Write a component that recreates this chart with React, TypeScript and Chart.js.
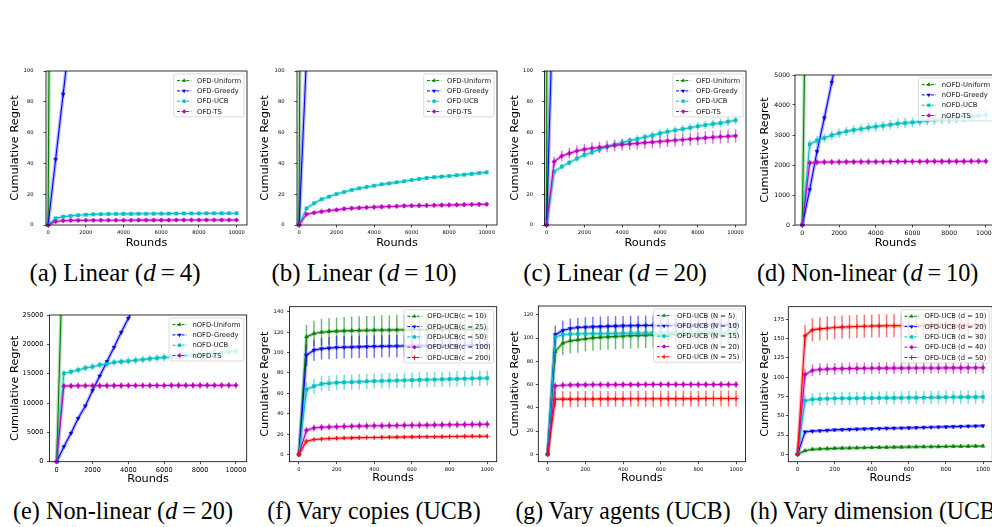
import React, { useEffect, useRef } from "react";
import { Chart, registerables } from "chart.js";
Chart.register(...registerables);

// ---------- shared axes ----------
const ROUNDS_10K = [0, 400, 800, 1200, 1600, 2000, 2400, 2800, 3200, 3600, 4000, 4400, 4800, 5200, 5600, 6000, 6400, 6800, 7200, 7600, 8000, 8400, 8800, 9200, 9600, 10000];
const ROUNDS_1K = [0, 40, 80, 120, 160, 200, 240, 280, 320, 360, 400, 440, 480, 520, 560, 600, 640, 680, 720, 760, 800, 840, 880, 920, 960, 1000];
const X_TICKS_10K = [0, 2000, 4000, 6000, 8000, 10000];
const X_TICKS_1K = [0, 200, 400, 600, 800, 1000];
const Y_TICKS_LIN = [0, 20, 40, 60, 80, 100];
const Y_TICKS_D = [0, 1000, 2000, 3000, 4000, 5000];
const Y_TICKS_E = [0, 5000, 10000, 15000, 20000, 25000];
const Y_TICKS_F = [0, 20, 40, 60, 80, 100, 120, 140];
const Y_TICKS_G = [0, 20, 40, 60, 80, 100, 120];
const Y_TICKS_H = [0, 25, 50, 75, 100, 125, 150, 175];

const LABELS_LIN = ["OFD-Uniform", "OFD-Greedy", "OFD-UCB", "OFD-TS"];
const LABELS_NONLIN = ["nOFD-Uniform", "nOFD-Greedy", "nOFD-UCB", "nOFD-TS"];
const LABELS_COPIES = ["OFD-UCB(c = 10)", "OFD-UCB(c = 25)", "OFD-UCB(c = 50)", "OFD-UCB(c = 100)", "OFD-UCB(c = 200)"];
const LABELS_AGENTS = ["OFD-UCB (N = 5)", "OFD-UCB (N = 10)", "OFD-UCB (N = 15)", "OFD-UCB (N = 20)", "OFD-UCB (N = 25)"];
const LABELS_DIM = ["OFD-UCB (d = 10)", "OFD-UCB (d = 20)", "OFD-UCB (d = 30)", "OFD-UCB (d = 40)", "OFD-UCB (d = 50)"];

// ---------- (a) Linear d=4 ----------
const A_UNIFORM = [0, 820, 1640];
const A_UNIFORM_ERR = [0, 40, 80];
const A_GREEDY = [0, 42.5, 85.0, 127.5, 170.0];
const A_GREEDY_ERR = [0, 1.5, 2.5, 3.5, 4.5];
const A_UCB = [0, 4.3, 5.4, 5.9, 6.3, 6.7, 6.9, 7.0, 7.1, 7.15, 7.2, 7.25, 7.3, 7.3, 7.35, 7.4, 7.4, 7.45, 7.5, 7.5, 7.5, 7.55, 7.55, 7.6, 7.6, 7.6];
const A_UCB_ERR = [0, 0.5, 0.5, 0.5, 0.6, 0.6, 0.6, 0.6, 0.6, 0.6, 0.7, 0.7, 0.7, 0.7, 0.7, 0.7, 0.7, 0.7, 0.7, 0.7, 0.7, 0.7, 0.7, 0.7, 0.7, 0.7];
const A_TS = [0, 2.3, 2.8, 3.0, 3.0, 3.05, 3.05, 3.1, 3.1, 3.1, 3.1, 3.1, 3.15, 3.15, 3.15, 3.15, 3.15, 3.2, 3.2, 3.2, 3.2, 3.2, 3.2, 3.2, 3.2, 3.2];
const A_TS_ERR = [0, 0.7, 0.8, 0.8, 0.8, 0.8, 0.8, 0.8, 0.8, 0.8, 0.8, 0.8, 0.8, 0.8, 0.8, 0.8, 0.8, 0.8, 0.8, 0.8, 0.8, 0.8, 0.8, 0.8, 0.8, 0.8];

// ---------- (b) Linear d=10 ----------
const B_UNIFORM = [0, 1080, 2160];
const B_UNIFORM_ERR = [0, 50, 100];
const B_GREEDY = [0, 110, 220];
const B_GREEDY_ERR = [0, 3, 6];
const B_UCB = [0, 10.8, 14.1, 16.7, 18.4, 20.1, 21.4, 22.7, 23.8, 24.7, 25.5, 26.4, 27.0, 27.7, 28.4, 29.2, 29.9, 30.5, 31.0, 31.4, 31.8, 32.3, 32.7, 33.2, 33.8, 34.2];
const B_UCB_ERR = [0, 0.6, 0.7, 0.7, 0.8, 0.8, 0.8, 0.8, 0.9, 0.9, 0.9, 0.9, 0.9, 0.9, 1.0, 1.0, 1.0, 1.0, 1.0, 1.0, 1.0, 1.0, 1.0, 1.0, 1.0, 1.0];
const B_TS = [0, 7.0, 8.0, 8.7, 9.4, 9.8, 10.5, 10.9, 11.1, 11.4, 11.6, 11.8, 12.0, 12.2, 12.4, 12.5, 12.6, 12.7, 12.8, 12.9, 13.0, 13.1, 13.2, 13.3, 13.4, 13.5];
const B_TS_ERR = [0, 1.0, 1.2, 1.2, 1.3, 1.3, 1.4, 1.4, 1.4, 1.4, 1.5, 1.5, 1.5, 1.5, 1.5, 1.5, 1.5, 1.6, 1.6, 1.6, 1.6, 1.6, 1.6, 1.6, 1.6, 1.6];

// ---------- (c) Linear d=20 ----------
const C_UNIFORM = [0, 4000, 8000];
const C_UNIFORM_ERR = [0, 200, 400];
const C_GREEDY = [0, 171, 342];
const C_GREEDY_ERR = [0, 5, 10];
const C_UCB = [0, 34.6, 37.9, 40.5, 43.1, 45.5, 47.2, 49.1, 50.9, 52.2, 53.5, 54.8, 55.8, 57.1, 58.2, 59.5, 60.6, 61.5, 62.3, 63.2, 64.1, 64.9, 65.6, 66.2, 67.1, 68.0];
const C_UCB_ERR = [0, 1.5, 1.7, 1.8, 1.9, 2.0, 2.1, 2.1, 2.2, 2.2, 2.3, 2.3, 2.4, 2.4, 2.5, 2.5, 2.5, 2.6, 2.6, 2.7, 2.7, 2.8, 2.8, 2.8, 2.9, 2.9];
const C_TS = [0, 41.1, 44.8, 46.5, 48.1, 49.1, 49.8, 50.4, 51.0, 51.7, 52.2, 52.6, 53.0, 53.5, 53.8, 54.2, 54.6, 55.0, 55.4, 55.8, 56.2, 56.6, 57.0, 57.3, 57.6, 57.9];
const C_TS_ERR = [0, 3.2, 3.4, 3.5, 3.6, 3.6, 3.7, 3.7, 3.8, 3.8, 3.8, 3.9, 3.9, 3.9, 4.0, 4.0, 4.0, 4.1, 4.1, 4.1, 4.2, 4.2, 4.2, 4.3, 4.3, 4.3];

// ---------- (d) Non-linear d=10 ----------
const D_UNIFORM = [0, 18000, 36000];
const D_UNIFORM_ERR = [0, 1500, 3000];
const D_GREEDY = [0, 1180, 2450, 3570, 4750, 5950];
const D_GREEDY_ERR = [0, 40, 70, 90, 110, 130];
const D_UCB = [0, 2690, 2820, 2900, 2990, 3060, 3120, 3170, 3200, 3245, 3280, 3310, 3345, 3380, 3400, 3420, 3445, 3480, 3510, 3530, 3550, 3575, 3600, 3620, 3645, 3665];
const D_UCB_ERR = [0, 140, 145, 150, 150, 155, 155, 155, 160, 160, 160, 160, 160, 165, 165, 165, 165, 165, 165, 165, 170, 170, 170, 170, 170, 170];
const D_TS = [0, 2070, 2090, 2095, 2100, 2100, 2105, 2105, 2110, 2110, 2110, 2110, 2115, 2115, 2115, 2115, 2115, 2120, 2120, 2120, 2120, 2120, 2120, 2125, 2125, 2125];
const D_TS_ERR = [0, 100, 105, 105, 105, 105, 105, 105, 110, 110, 110, 110, 110, 110, 110, 110, 110, 110, 110, 110, 110, 110, 110, 110, 110, 110];

// ---------- (e) Non-linear d=20 ----------
const E_UNIFORM = [0, 41700, 83400];
const E_UNIFORM_ERR = [0, 2500, 5000];
const E_GREEDY = [0, 2550, 4850, 7400, 9500, 12150, 14600, 17050, 19500, 22050, 24450, 26900];
const E_GREEDY_ERR = [0, 60, 90, 110, 130, 150, 160, 170, 180, 190, 200, 210];
const E_UCB = [0, 15060, 15340, 15630, 15970, 16190, 16480, 16650, 16940, 17050, 17160, 17280, 17400, 17560, 17670, 17780, 17840, 17950, 18070, 18180, 18300, 18350, 18460, 18580, 18690, 18800];
const E_UCB_ERR = [0, 500, 520, 540, 560, 580, 590, 600, 610, 620, 630, 630, 640, 640, 650, 650, 650, 660, 660, 660, 670, 670, 670, 680, 680, 680];
const E_TS = [0, 12900, 12920, 12940, 12950, 12950, 12960, 12960, 12970, 12970, 12980, 12980, 12980, 12990, 12990, 12990, 13000, 13000, 13000, 13000, 13010, 13010, 13010, 13020, 13020, 13020];
const E_TS_ERR = [0, 520, 530, 540, 540, 550, 550, 550, 560, 560, 560, 560, 560, 570, 570, 570, 570, 570, 570, 570, 580, 580, 580, 580, 580, 580];

// ---------- (f) Vary copies ----------
const F_C10 = [0, 115.4, 118.7, 120.0, 120.6, 121.0, 121.3, 121.5, 121.7, 121.9, 122.0, 122.1, 122.2, 122.3, 122.4, 122.5, 122.6, 122.6, 122.7, 122.7, 122.8, 122.8, 122.9, 122.9, 123.0, 123.0];
const F_C10_ERR = [0, 12.0, 12.5, 13.0, 13.0, 13.5, 13.5, 14.0, 14.0, 14.0, 14.0, 14.5, 14.5, 14.5, 14.5, 14.5, 14.5, 14.5, 14.5, 14.5, 14.5, 14.5, 14.5, 14.5, 14.5, 14.5];
const F_C25 = [0, 97.4, 102.4, 103.7, 104.4, 105.0, 105.2, 105.4, 105.6, 105.8, 106.0, 106.1, 106.2, 106.3, 106.4, 106.5, 106.6, 106.6, 106.7, 106.7, 106.8, 106.8, 106.9, 106.9, 107.0, 107.0];
const F_C25_ERR = [0, 10.5, 10.5, 10.5, 11.0, 11.0, 11.0, 11.0, 11.0, 11.0, 11.0, 11.0, 11.0, 11.0, 11.0, 11.0, 11.0, 11.0, 11.0, 11.0, 11.0, 11.0, 11.0, 11.0, 11.0, 11.0];
const F_C50 = [0, 63.8, 67.0, 69.3, 69.9, 70.5, 70.8, 71.1, 71.4, 71.7, 72.0, 72.2, 72.4, 72.6, 72.8, 73.0, 73.2, 73.4, 73.6, 73.8, 74.0, 74.2, 74.4, 74.6, 74.8, 74.9];
const F_C50_ERR = [0, 7.0, 7.5, 7.5, 7.5, 7.5, 7.5, 7.5, 7.5, 7.5, 7.5, 7.5, 7.5, 7.5, 7.5, 7.5, 7.5, 7.5, 7.5, 7.5, 7.5, 7.5, 7.5, 7.5, 7.5, 7.5];
const F_C100 = [0, 23.8, 26.1, 26.7, 27.0, 27.3, 27.5, 27.7, 27.9, 28.0, 28.2, 28.3, 28.4, 28.5, 28.6, 28.7, 28.8, 28.9, 29.0, 29.1, 29.2, 29.3, 29.4, 29.5, 29.6, 29.7];
const F_C100_ERR = [0, 3.5, 3.5, 3.5, 3.5, 3.6, 3.6, 3.6, 3.6, 3.6, 3.7, 3.7, 3.7, 3.7, 3.7, 3.7, 3.8, 3.8, 3.8, 3.8, 3.8, 3.8, 3.8, 3.8, 3.8, 3.8];
const F_C200 = [0, 13.0, 14.7, 15.3, 15.7, 16.0, 16.2, 16.4, 16.6, 16.7, 16.8, 16.9, 17.0, 17.1, 17.2, 17.3, 17.4, 17.5, 17.5, 17.6, 17.7, 17.7, 17.8, 17.9, 17.9, 18.0];
const F_C200_ERR = [0, 1.0, 1.1, 1.1, 1.2, 1.2, 1.2, 1.2, 1.2, 1.2, 1.2, 1.3, 1.3, 1.3, 1.3, 1.3, 1.3, 1.3, 1.3, 1.3, 1.3, 1.3, 1.3, 1.3, 1.3, 1.3];

// ---------- (g) Vary agents ----------
const G_N5 = [0, 88.4, 95.6, 97.6, 98.4, 99.3, 100.1, 100.6, 101.0, 101.4, 101.7, 102.0, 102.2, 102.5, 102.7, 102.9, 103.0, 103.1, 103.2, 103.3, 103.4, 103.5, 103.5, 103.6, 103.6, 103.7];
const G_N5_ERR = [0, 10.0, 10.5, 11.0, 11.0, 11.0, 11.0, 11.0, 11.0, 11.0, 11.0, 11.0, 11.0, 11.0, 11.0, 11.0, 11.0, 11.0, 11.0, 11.0, 11.0, 11.0, 11.0, 11.0, 11.0, 11.0];
const G_N10 = [0, 102.8, 106.5, 108.2, 109.0, 109.3, 109.6, 109.8, 110.0, 110.2, 110.4, 110.5, 110.6, 110.7, 110.8, 110.9, 110.9, 111.0, 111.0, 111.1, 111.1, 111.2, 111.2, 111.3, 111.3, 111.3];
const G_N10_ERR = [0, 8.0, 8.3, 8.5, 8.5, 8.6, 8.6, 8.6, 8.6, 8.6, 8.6, 8.6, 8.6, 8.6, 8.6, 8.6, 8.6, 8.6, 8.6, 8.6, 8.6, 8.6, 8.6, 8.6, 8.6, 8.6];
const G_N15 = [0, 100.8, 102.8, 103.4, 103.5, 103.6, 103.7, 103.8, 103.9, 104.0, 104.1, 104.2, 104.2, 104.3, 104.4, 104.5, 104.5, 104.6, 104.7, 104.7, 104.8, 104.8, 104.9, 104.9, 105.0, 105.0];
const G_N15_ERR = [0, 5.5, 5.5, 5.5, 5.5, 5.5, 5.5, 5.5, 5.5, 5.5, 5.5, 5.5, 5.5, 5.5, 5.5, 5.5, 5.5, 5.5, 5.5, 5.5, 5.5, 5.5, 5.5, 5.5, 5.5, 5.5];
const G_N20 = [0, 58.8, 59.4, 59.6, 59.7, 59.7, 59.8, 59.8, 59.8, 59.9, 59.9, 59.9, 59.9, 60.0, 60.0, 60.0, 60.0, 60.0, 60.0, 60.0, 60.0, 60.0, 60.0, 60.0, 60.0, 60.0];
const G_N20_ERR = [0, 3.0, 3.0, 3.0, 3.0, 3.0, 3.0, 3.0, 3.0, 3.0, 3.0, 3.0, 3.0, 3.0, 3.0, 3.0, 3.0, 3.0, 3.0, 3.0, 3.0, 3.0, 3.0, 3.0, 3.0, 3.0];
const G_N25 = [0, 47.4, 47.5, 47.5, 47.6, 47.6, 47.6, 47.7, 47.7, 47.7, 47.7, 47.8, 47.8, 47.8, 47.8, 47.8, 47.9, 47.9, 47.9, 47.9, 47.9, 48.0, 48.0, 48.0, 48.0, 48.0];
const G_N25_ERR = [0, 6.8, 6.8, 6.8, 6.8, 6.8, 6.8, 6.8, 6.8, 6.8, 6.8, 6.8, 6.8, 6.8, 6.8, 6.8, 6.8, 6.8, 6.8, 6.8, 6.8, 6.8, 6.8, 6.8, 6.8, 6.8];

// ---------- (h) Vary dimension ----------
const H_D10 = [0, 4.7, 6.5, 7.0, 7.4, 7.7, 8.0, 8.2, 8.4, 8.6, 8.8, 9.0, 9.1, 9.3, 9.4, 9.6, 9.7, 9.8, 9.9, 10.0, 10.2, 10.3, 10.4, 10.5, 10.6, 10.8];
const H_D10_ERR = [0, 1.5, 1.5, 1.5, 1.6, 1.6, 1.6, 1.6, 1.7, 1.7, 1.7, 1.7, 1.8, 1.8, 1.8, 1.8, 1.8, 1.9, 1.9, 1.9, 1.9, 1.9, 2.0, 2.0, 2.0, 2.0];
const H_D20 = [0, 29.0, 30.0, 30.5, 31.0, 31.7, 32.0, 32.3, 32.6, 32.9, 33.1, 33.4, 33.6, 33.8, 34.0, 34.3, 34.5, 34.8, 35.0, 35.3, 35.6, 35.9, 36.1, 36.4, 36.6, 36.9];
const H_D20_ERR = [0, 1.8, 1.8, 1.8, 1.9, 1.9, 1.9, 1.9, 2.0, 2.0, 2.0, 2.0, 2.0, 2.0, 2.1, 2.1, 2.1, 2.1, 2.1, 2.1, 2.2, 2.2, 2.2, 2.2, 2.2, 2.2];
const H_D30 = [0, 69.4, 71.1, 71.6, 72.0, 72.3, 72.4, 72.5, 72.6, 72.7, 72.8, 72.9, 73.0, 73.1, 73.2, 73.3, 73.4, 73.5, 73.6, 73.7, 73.8, 73.9, 74.0, 74.0, 74.1, 74.2];
const H_D30_ERR = [0, 8.0, 8.2, 8.3, 8.4, 8.5, 8.5, 8.5, 8.5, 8.5, 8.5, 8.5, 8.5, 8.5, 8.5, 8.5, 8.5, 8.5, 8.5, 8.5, 8.5, 8.5, 8.5, 8.5, 8.5, 8.5];
const H_D40 = [0, 103.3, 108.5, 109.8, 110.3, 110.7, 110.9, 111.1, 111.2, 111.3, 111.4, 111.5, 111.5, 111.6, 111.6, 111.7, 111.7, 111.8, 111.8, 111.8, 111.9, 111.9, 111.9, 112.0, 112.0, 112.0];
const H_D40_ERR = [0, 7.5, 7.6, 7.6, 7.6, 7.6, 7.6, 7.6, 7.6, 7.6, 7.6, 7.6, 7.6, 7.6, 7.6, 7.6, 7.6, 7.6, 7.6, 7.6, 7.6, 7.6, 7.6, 7.6, 7.6, 7.6];
const H_D50 = [0, 153.3, 161.0, 162.3, 163.2, 164.0, 164.6, 165.0, 165.4, 165.7, 166.0, 166.2, 166.3, 166.4, 166.5, 166.6, 166.7, 166.7, 166.8, 166.8, 166.9, 166.9, 167.0, 167.0, 167.0, 167.1];
const H_D50_ERR = [0, 14.5, 15.0, 15.0, 15.0, 15.0, 15.0, 15.0, 15.0, 15.0, 15.0, 15.0, 15.0, 15.0, 15.0, 15.0, 15.0, 15.0, 15.0, 15.0, 15.0, 15.0, 15.0, 15.0, 15.0, 15.0];

// ---------- captions (center x, or left when clipped at the right edge) ----------
const CAPTIONS = [
  { pre: "(a) Linear (", v: "d", post: "4)", cx: 115, left: -1, top: 260, sx: 1 },
  { pre: "(b) Linear (", v: "d", post: "10)", cx: 364, left: -1, top: 260, sx: 1 },
  { pre: "(c) Linear (", v: "d", post: "20)", cx: 615, left: -1, top: 260, sx: 1 },
  { pre: "(d) Non-linear (", v: "d", post: "10)", cx: -1, left: 757, top: 260, sx: 0.97 },
  { pre: "(e) Non-linear (", v: "d", post: "20)", cx: 123, left: -1, top: 498, sx: 0.97 },
  { pre: "(f) Vary copies (UCB)", v: "", post: "", cx: 374, left: -1, top: 498, sx: 0.96 },
  { pre: "(g) Vary agents (UCB)", v: "", post: "", cx: 623, left: -1, top: 498, sx: 0.95 },
  { pre: "(h) Vary dimension (UCB)", v: "", post: "", cx: -1, left: 750, top: 498, sx: 0.95 },
];

// ---------- styles ----------
const COLORS = ["#008000", "#0000ff", "#00bfbf", "#bf00bf", "#ff0000"];
const STYLES = ["triangle", "triangle", "rect", "rectRot", "cross"];
const ROTS = [0, 180, 0, 0, 0];

type Ser = { label: string; k: number; ys: number[]; err: number[] };
type Panel = {
  id: string;
  canvas: number[];
  area: number[];
  xs: number[];
  xMin: number;
  xMax: number;
  xTicks: number[];
  yMin: number;
  yMax: number;
  yTicks: number[];
  tickFont: number;
  yGap: number;
  series: Ser[];
};

const mk = (labels: string[], ys: number[][], errs: number[][]): Ser[] =>
  labels.map((l, i) => ({ label: l, k: i, ys: ys[i], err: errs[i] }));

const PANELS: Panel[] = [
  {
    id: "a", canvas: [8, 62, 256, 250], area: [46, 71, 247, 225],
    xs: ROUNDS_10K, xMin: -110, xMax: 10550, xTicks: X_TICKS_10K,
    yMin: 0, yMax: 100, yTicks: Y_TICKS_LIN, tickFont: 5.2, yGap: 12.5,
    series: mk(LABELS_LIN, [A_UNIFORM, A_GREEDY, A_UCB, A_TS], [A_UNIFORM_ERR, A_GREEDY_ERR, A_UCB_ERR, A_TS_ERR]),
  },
  {
    id: "b", canvas: [258, 62, 506, 250], area: [297, 71, 497, 225],
    xs: ROUNDS_10K, xMin: -110, xMax: 10550, xTicks: X_TICKS_10K,
    yMin: 0, yMax: 100, yTicks: Y_TICKS_LIN, tickFont: 5.2, yGap: 12.5,
    series: mk(LABELS_LIN, [B_UNIFORM, B_GREEDY, B_UCB, B_TS], [B_UNIFORM_ERR, B_GREEDY_ERR, B_UCB_ERR, B_TS_ERR]),
  },
  {
    id: "c", canvas: [508, 62, 756, 250], area: [544.5, 71, 746, 225],
    xs: ROUNDS_10K, xMin: -110, xMax: 10550, xTicks: X_TICKS_10K,
    yMin: 0, yMax: 100, yTicks: Y_TICKS_LIN, tickFont: 5.2, yGap: 11.5,
    series: mk(LABELS_LIN, [C_UNIFORM, C_GREEDY, C_UCB, C_TS], [C_UNIFORM_ERR, C_GREEDY_ERR, C_UCB_ERR, C_TS_ERR]),
  },
  {
    id: "d", canvas: [758, 66, 1006, 250], area: [795, 75, 996, 225],
    xs: ROUNDS_10K, xMin: -400, xMax: 10550, xTicks: X_TICKS_10K,
    yMin: 0, yMax: 5000, yTicks: Y_TICKS_D, tickFont: 6.2, yGap: 5,
    series: mk(LABELS_NONLIN, [D_UNIFORM, D_GREEDY, D_UCB, D_TS], [D_UNIFORM_ERR, D_GREEDY_ERR, D_UCB_ERR, D_TS_ERR]),
  },
  {
    id: "e", canvas: [8, 306, 256, 486], area: [49.5, 315, 246.7, 461.7],
    xs: ROUNDS_10K, xMin: -400, xMax: 10600, xTicks: X_TICKS_10K,
    yMin: 0, yMax: 25000, yTicks: Y_TICKS_E, tickFont: 6.6, yGap: 6,
    series: mk(LABELS_NONLIN, [E_UNIFORM, E_GREEDY, E_UCB, E_TS], [E_UNIFORM_ERR, E_GREEDY_ERR, E_UCB_ERR, E_TS_ERR]),
  },
  {
    id: "f", canvas: [258, 298, 506, 485], area: [289.5, 306.7, 496.7, 461.7],
    xs: ROUNDS_1K, xMin: -50, xMax: 1050, xTicks: X_TICKS_1K,
    yMin: -7, yMax: 145, yTicks: Y_TICKS_F, tickFont: 5.2, yGap: 6,
    series: mk(LABELS_COPIES, [F_C10, F_C25, F_C50, F_C100, F_C200], [F_C10_ERR, F_C25_ERR, F_C50_ERR, F_C100_ERR, F_C200_ERR]),
  },
  {
    id: "g", canvas: [508, 298, 756, 485], area: [538.3, 306, 745.5, 461.7],
    xs: ROUNDS_1K, xMin: -50, xMax: 1050, xTicks: X_TICKS_1K,
    yMin: -6.3, yMax: 127.5, yTicks: Y_TICKS_G, tickFont: 5.2, yGap: 5,
    series: mk(LABELS_AGENTS, [G_N5, G_N10, G_N15, G_N20, G_N25], [G_N5_ERR, G_N10_ERR, G_N15_ERR, G_N20_ERR, G_N25_ERR]),
  },
  {
    id: "h", canvas: [758, 298, 1002, 485], area: [788.3, 306.7, 992.3, 461.7],
    xs: ROUNDS_1K, xMin: -50, xMax: 1050, xTicks: X_TICKS_1K,
    yMin: -9.5, yMax: 191, yTicks: Y_TICKS_H, tickFont: 5.6, yGap: 4,
    series: mk(LABELS_DIM, [H_D10, H_D20, H_D30, H_D40, H_D50], [H_D10_ERR, H_D20_ERR, H_D30_ERR, H_D40_ERR, H_D50_ERR]),
  },
];

const FONT = "DejaVu Sans";

function drawMarker(ctx: CanvasRenderingContext2D, k: number, x: number, y: number, r: number) {
  const c = COLORS[k];
  ctx.save();
  ctx.translate(x, y);
  ctx.fillStyle = c;
  ctx.strokeStyle = c;
  ctx.lineWidth = 1;
  ctx.beginPath();
  const st = STYLES[k];
  if (st === "triangle") {
    if (ROTS[k]) ctx.rotate(Math.PI);
    ctx.moveTo(0, -r);
    ctx.lineTo(r * 0.866, r * 0.5);
    ctx.lineTo(-r * 0.866, r * 0.5);
    ctx.closePath();
    ctx.fill();
  } else if (st === "rect") {
    const s = r * 0.707;
    ctx.rect(-s, -s, 2 * s, 2 * s);
    ctx.fill();
  } else if (st === "rectRot") {
    ctx.moveTo(0, -r);
    ctx.lineTo(r, 0);
    ctx.lineTo(0, r);
    ctx.lineTo(-r, 0);
    ctx.closePath();
    ctx.fill();
  } else {
    ctx.moveTo(-r, 0);
    ctx.lineTo(r, 0);
    ctx.moveTo(0, -r);
    ctx.lineTo(0, r);
    ctx.stroke();
  }
  ctx.restore();
}

function PanelChart({ p }: { p: Panel }) {
  const ref = useRef<HTMLCanvasElement>(null);
  const [cl, ct, cr, cb] = p.canvas;
  const [al, at, ar, ab] = p.area;
  useEffect(() => {
    const n = p.series.length;
    const clipBox = { left: 5, top: 0, right: 5, bottom: 5 };
    const decor = {
      id: "decor" + p.id,
      beforeDatasetsDraw(chart: any) {
        const { ctx, chartArea: a, scales } = chart;
        const xs = scales.x, ys = scales.y;
        ctx.save();
        ctx.beginPath();
        ctx.rect(a.left - 5, a.top, a.right - a.left + 10, a.bottom - a.top + 5);
        ctx.clip();
        p.series.forEach((s) => {
          const col = COLORS[s.k];
          // soft halo along the mean curve
          ctx.globalAlpha = 0.28;
          ctx.strokeStyle = col;
          ctx.lineWidth = 3.6;
          ctx.lineJoin = "round";
          ctx.beginPath();
          s.ys.forEach((v, i) => {
            const px = xs.getPixelForValue(p.xs[i]);
            const py = ys.getPixelForValue(v);
            if (i === 0) ctx.moveTo(px, py);
            else ctx.lineTo(px, py);
          });
          ctx.stroke();
          // error bars
          ctx.globalAlpha = 0.55;
          ctx.lineWidth = 1.5;
          s.ys.forEach((v, i) => {
            const e = s.err[i] ?? 0;
            if (!e) return;
            const px = xs.getPixelForValue(p.xs[i]);
            ctx.beginPath();
            ctx.moveTo(px, ys.getPixelForValue(v - e));
            ctx.lineTo(px, ys.getPixelForValue(v + e));
            ctx.stroke();
          });
        });
        ctx.restore();
      },
      afterDraw(chart: any) {
        const { ctx, chartArea: a } = chart;
        ctx.save();
        ctx.strokeStyle = "#000";
        ctx.lineWidth = 0.8;
        ctx.strokeRect(a.left, a.top, a.right - a.left, a.bottom - a.top);
        // legend
        const fs = 6.8;
        ctx.font = `${fs}px "${FONT}"`;
        let maxW = 0;
        p.series.forEach((s) => { maxW = Math.max(maxW, ctx.measureText(s.label).width); });
        const padL = 3.3, sampleL = 14.3, gap = 5.7, padR = 3, rowH = 10.3, padT = 6.6, padB = 5.4;
        const w = padL + sampleL + gap + maxW + padR;
        const h = padT + rowH * (n - 1) + padB;
        const bx = a.right - 3 - w;
        const by = a.top + 3;
        ctx.beginPath();
        if ((ctx as any).roundRect) (ctx as any).roundRect(bx, by, w, h, 1.5);
        else ctx.rect(bx, by, w, h);
        ctx.fillStyle = "rgba(255,255,255,0.8)";
        ctx.fill();
        ctx.strokeStyle = "#d0d0d0";
        ctx.lineWidth = 0.8;
        ctx.stroke();
        p.series.forEach((s, i) => {
          const y = by + padT + i * rowH;
          const col = COLORS[s.k];
          ctx.save();
          ctx.strokeStyle = col;
          ctx.lineWidth = 1;
          ctx.setLineDash([3, 1.6]);
          ctx.beginPath();
          ctx.moveTo(bx + padL, y);
          ctx.lineTo(bx + padL + sampleL, y);
          ctx.stroke();
          ctx.restore();
          drawMarker(ctx, s.k, bx + padL + sampleL / 2, y, 2.3);
          ctx.fillStyle = "#111";
          ctx.textBaseline = "middle";
          ctx.textAlign = "left";
          ctx.fillText(s.label, bx + padL + sampleL + gap, y + 0.3);
        });
        ctx.restore();
      },
    };
    const tickFont = { family: FONT, size: p.tickFont };
    const titleFont = { family: FONT, size: 11.3 };
    const chart = new Chart(ref.current as HTMLCanvasElement, {
      type: "line",
      data: {
        datasets: p.series.map((s, i) => ({
          label: s.label,
          data: s.ys.map((v, j) => ({ x: p.xs[j], y: v })),
          borderColor: COLORS[s.k],
          backgroundColor: COLORS[s.k],
          pointBackgroundColor: COLORS[s.k],
          pointBorderColor: COLORS[s.k],
          borderWidth: 1.1,
          pointStyle: STYLES[s.k] as any,
          pointRotation: ROTS[s.k],
          pointRadius: 2.3,
          pointBorderWidth: STYLES[s.k] === "cross" ? 1.1 : 0.4,
          tension: 0,
          fill: false,
          clip: clipBox as any,
          order: n - i,
        })),
      },
      options: {
        animation: false,
        responsive: false,
        maintainAspectRatio: false,
        devicePixelRatio: 1,
        events: [],
        layout: { padding: { left: 0, top: at - ct, right: cr - ar, bottom: 0 } },
        plugins: { legend: { display: false }, tooltip: { enabled: false } },
        scales: {
          x: {
            type: "linear",
            min: p.xMin,
            max: p.xMax,
            afterBuildTicks: (s: any) => { s.ticks = p.xTicks.map((v) => ({ value: v })); },
            afterFit: (s: any) => { s.height = cb - ab; s.paddingLeft = 0; s.paddingRight = 0; },
            ticks: { font: tickFont, color: "#000", padding: 2, maxRotation: 0, autoSkip: false, callback: (v: any) => String(v) },
            grid: { drawOnChartArea: false, drawTicks: true, tickLength: 2.5, color: "#000", lineWidth: 0.7 },
            border: { display: false },
            title: { display: true, text: "Rounds", font: titleFont, color: "#000", padding: 0 },
          },
          y: {
            type: "linear",
            min: p.yMin,
            max: p.yMax,
            afterBuildTicks: (s: any) => { s.ticks = p.yTicks.map((v) => ({ value: v })); },
            afterFit: (s: any) => { s.width = al - cl; s.paddingTop = 0; s.paddingBottom = 0; },
            ticks: { font: tickFont, color: "#000", padding: p.yGap - 2.5, autoSkip: false, callback: (v: any) => String(v) },
            grid: { drawOnChartArea: false, drawTicks: true, tickLength: 2.5, color: "#000", lineWidth: 0.7 },
            border: { display: false },
            title: { display: true, text: "Cumulative Regret", font: titleFont, color: "#000", padding: 0 },
          },
        },
      } as any,
      plugins: [decor],
    });
    return () => chart.destroy();
  }, [p]);
  return (
    <canvas
      ref={ref}
      width={cr - cl}
      height={cb - ct}
      style={{ position: "absolute", left: cl, top: ct, width: cr - cl, height: cb - ct }}
    />
  );
}

export default function App() {
  return (
    <div style={{ position: "fixed", left: 0, top: 0, width: 992, height: 527, overflow: "hidden", background: "#fff" }}>
      {PANELS.map((p) => (
        <PanelChart key={p.id} p={p} />
      ))}
      {CAPTIONS.map((c, i) => (
        <div
          key={i}
          style={{
            position: "absolute",
            left: c.cx >= 0 ? c.cx : c.left,
            top: c.top,
            transform: c.cx >= 0 ? `translateX(-50%) scaleX(${c.sx})` : `scaleX(${c.sx})`,
            transformOrigin: c.cx >= 0 ? "50% 50%" : "0 50%",
            fontFamily: '"Liberation Serif", "Times New Roman", serif',
            fontSize: 25,
            lineHeight: "25px",
            whiteSpace: "nowrap",
            color: "#000",
          }}
        >
          {c.pre}
          {c.v ? (
            <>
              <i>{c.v}</i>
              <span style={{ margin: "0 5px" }}>=</span>
            </>
          ) : null}
          {c.post}
        </div>
      ))}
    </div>
  );
}
